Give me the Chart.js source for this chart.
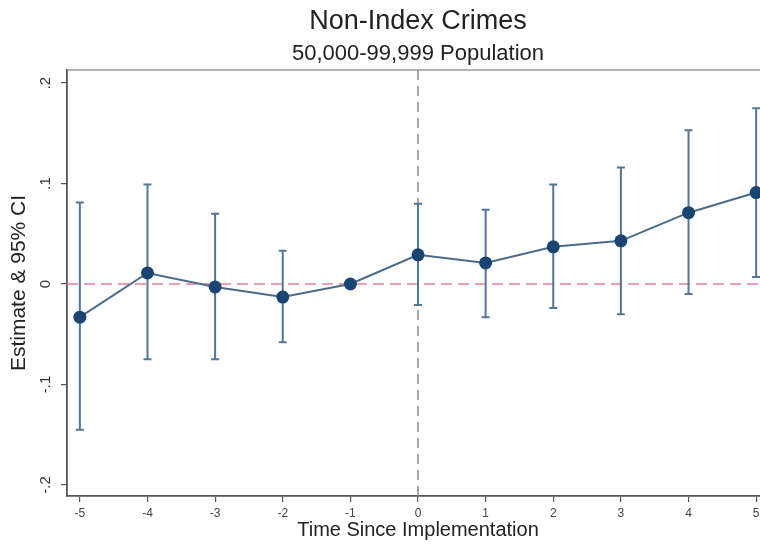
<!DOCTYPE html>
<html>
<head>
<meta charset="utf-8">
<script src="https://cdn.jsdelivr.net/npm/chart.js@4/dist/chart.umd.min.js"></script>
<style>
  html, body { margin: 0; padding: 0; background: #fff; overflow: hidden; width: 760px; height: 547px; }
  #wrap { position: relative; width: 780px; height: 547px; }
</style>
</head>
<body>
<div id="wrap"><canvas id="c" width="780" height="547"></canvas></div>
<script>
// Event-study estimates with 95% confidence intervals
const periods   = [-5, -4, -3, -2, -1, 0, 1, 2, 3, 4, 5];
const estimates = [-0.033, 0.011, -0.003, -0.013, 0.000, 0.029, 0.021, 0.037, 0.043, 0.071, 0.091];
const ciLower   = [-0.145, -0.075, -0.075, -0.058, 0.000, -0.021, -0.033, -0.024, -0.030, -0.010, 0.007];
const ciUpper   = [0.081, 0.099, 0.070, 0.033, 0.000, 0.080, 0.074, 0.099, 0.116, 0.153, 0.175];
const yTickValues = [-0.2, -0.1, 0, 0.1, 0.2];
const yTickLabels = ['-.2', '-.1', '0', '.1', '.2'];
const titleText = 'Non-Index Crimes';
const subtitleText = '50,000-99,999 Population';
const xTitle = 'Time Since Implementation';
const yTitle = 'Estimate & 95% CI';

const FONT = "'Liberation Sans', Arial, Helvetica, sans-serif";

const overlay = {
  id: 'overlay',
  beforeDatasetsDraw(chart) {
    const { ctx, chartArea: a, scales: { x, y } } = chart;
    ctx.save();
    // frame line along the top of the plot region
    ctx.strokeStyle = '#9a9a9a';
    ctx.lineWidth = 1.5;
    ctx.beginPath();
    ctx.moveTo(a.left, a.top);
    ctx.lineTo(a.right + 20, a.top);
    ctx.stroke();

    // horizontal reference at zero
    const y0 = y.getPixelForValue(0);
    ctx.strokeStyle = '#e6809c';
    ctx.lineWidth = 1.6;
    ctx.setLineDash([11, 6]);
    ctx.beginPath();
    ctx.moveTo(a.left, y0);
    ctx.lineTo(a.right, y0);
    ctx.stroke();

    // vertical reference at implementation
    const x0 = x.getPixelForValue(0);
    ctx.strokeStyle = '#808080';
    ctx.lineWidth = 1.4;
    ctx.setLineDash([10, 6]);
    ctx.beginPath();
    ctx.moveTo(x0, a.top);
    ctx.lineTo(x0, a.bottom);
    ctx.stroke();
    ctx.setLineDash([]);

    // confidence-interval whiskers
    ctx.strokeStyle = '#52769a';
    ctx.lineWidth = 2;
    periods.forEach((p, i) => {
      if (ciUpper[i] === ciLower[i]) return;
      const px = x.getPixelForValue(p);
      const yt = y.getPixelForValue(ciUpper[i]);
      const yb = y.getPixelForValue(ciLower[i]);
      ctx.beginPath();
      ctx.moveTo(px, yt); ctx.lineTo(px, yb);
      ctx.moveTo(px - 4, yt); ctx.lineTo(px + 4, yt);
      ctx.moveTo(px - 4, yb); ctx.lineTo(px + 4, yb);
      ctx.stroke();
    });
    ctx.restore();
  },
  afterDraw(chart) {
    const { ctx, chartArea: a, scales: { y } } = chart;
    ctx.save();
    // titles
    const cx = (a.left + a.right) / 2;
    ctx.fillStyle = '#222';
    ctx.textAlign = 'center';
    ctx.textBaseline = 'middle';
    ctx.font = `27px ${FONT}`;
    ctx.fillText(titleText, cx, 22);
    ctx.font = `22px ${FONT}`;
    ctx.fillText(subtitleText, cx, 54);

    // rotated y tick labels
    ctx.fillStyle = '#333';
    ctx.font = `15px ${FONT}`;
    yTickValues.forEach((v, i) => {
      const py = y.getPixelForValue(v);
      ctx.save();
      ctx.translate(46, py);
      ctx.rotate(-Math.PI / 2);
      ctx.fillText(yTickLabels[i], 0, 0);
      ctx.restore();
    });
    ctx.restore();
  }
};

new Chart(document.getElementById('c'), {
  type: 'line',
  data: {
    datasets: [{
      data: periods.map((p, i) => ({ x: p, y: estimates[i] })),
      borderColor: '#4b6b88',
      borderWidth: 2,
      backgroundColor: '#1a4472',
      pointBackgroundColor: '#1a4472',
      pointBorderColor: '#1a4472',
      pointRadius: 6.5,
      pointBorderWidth: 0,
      tension: 0,
      clip: false
    }]
  },
  options: {
    responsive: false,
    animation: false,
    devicePixelRatio: 1,
    layout: { padding: { top: 70, right: 11, left: 0, bottom: 0 } },
    plugins: { legend: { display: false }, tooltip: { enabled: false } },
    scales: {
      x: {
        type: 'linear',
        min: -5.19,
        max: 5.19,
        afterBuildTicks(scale) { scale.ticks = periods.map(v => ({ value: v })); },
        afterFit(scale) { scale.height = 51; },
        grid: { display: true, drawOnChartArea: false, drawTicks: true, tickLength: 6, color: '#555', lineWidth: 1.2 },
        border: { display: true, color: '#555', width: 1.8 },
        ticks: {
          padding: 4,
          color: '#444',
          font: { family: FONT, size: 12 },
          maxRotation: 0,
          callback: v => String(v)
        },
        title: {
          display: true,
          text: xTitle,
          color: '#222',
          font: { family: FONT, size: 20 },
          padding: { top: 0, bottom: 5 }
        }
      },
      y: {
        type: 'linear',
        min: -0.211,
        max: 0.213,
        afterBuildTicks(scale) { scale.ticks = yTickValues.map(v => ({ value: v })); },
        afterFit(scale) { scale.width = 67; },
        grid: { display: true, drawOnChartArea: false, drawTicks: true, tickLength: 6, color: '#555', lineWidth: 1.2 },
        border: { display: true, color: '#555', width: 1.8 },
        ticks: { display: false },
        title: {
          display: true,
          text: yTitle,
          color: '#222',
          font: { family: FONT, size: 21 },
          padding: { top: 7, bottom: 0 }
        }
      }
    }
  },
  plugins: [overlay]
});
</script>
</body>
</html>
